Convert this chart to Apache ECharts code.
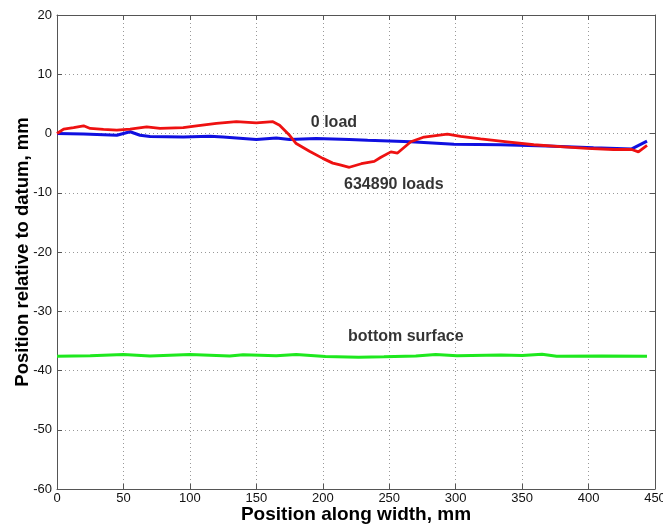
<!DOCTYPE html>
<html>
<head>
<meta charset="utf-8">
<script src="https://cdn.jsdelivr.net/npm/echarts@6/dist/echarts.min.js"></script>
<style>html,body{margin:0;padding:0;background:#fff;}#c{width:663px;height:527px;}</style>
</head>
<body>
<div id="c"></div>
<script>
// Data (mm along width, position relative to datum in mm)
var redX = [0, 5, 12.5, 20, 25, 35, 45, 55, 67.5, 77.5, 95, 105, 120, 135, 150, 162.5, 167.5, 175, 180, 190, 200, 207.5, 213, 220, 229, 238.75, 243.75, 251.25, 256.25, 266.25, 276.25, 293.75, 303.75, 318.75, 338.75, 358.75, 378.75, 398.75, 418.75, 432.5, 437.5, 444];
var redY = [0, 0.75, 1.0, 1.3, 0.85, 0.7, 0.57, 0.75, 1.1, 0.85, 1.0, 1.3, 1.7, 2.0, 1.8, 2.0, 1.4, -0.3, -1.7, -3.0, -4.2, -5.0, -5.3, -5.7, -5.1, -4.7, -4.0, -3.1, -3.3, -1.4, -0.6, -0.1, -0.5, -0.9, -1.4, -1.9, -2.2, -2.5, -2.7, -2.7, -3.1, -2.0];
var blueX = [0, 20, 45, 55, 62.5, 70, 95, 115, 125, 150, 165, 175, 195, 220, 233.75, 266.25, 298.75, 333.75, 368.75, 403.75, 432.5, 444];
var blueY = [0, -0.1, -0.3, 0.3, -0.3, -0.5, -0.6, -0.45, -0.6, -1.0, -0.75, -1.0, -0.85, -1.0, -1.15, -1.4, -1.8, -1.9, -2.1, -2.4, -2.6, -1.3];
var greenX = [0, 25, 50, 70, 100, 130, 140, 165, 180, 202, 227, 246, 270, 285, 301, 334, 350, 365, 376, 410, 444];
var greenY = [-37.58, -37.5, -37.3, -37.55, -37.3, -37.55, -37.36, -37.5, -37.3, -37.64, -37.75, -37.7, -37.55, -37.3, -37.5, -37.4, -37.45, -37.25, -37.58, -37.55, -37.58];
var labelTexts = ['0 load', '634890 loads', 'bottom surface'];
var labelX = [191, 216, 219];
var labelY = [1.9, -8.6, -34.3];
var xTicks = [0, 50, 100, 150, 200, 250, 300, 350, 400, 450];
var yTicks = [-60, -50, -40, -30, -20, -10, 0, 10, 20];

function zip(a, b) { return a.map(function (v, i) { return [v, b[i]]; }); }

var chart = echarts.init(document.getElementById('c'), null, {renderer: 'canvas'});
var fontFam = '"Liberation Sans", Arial, sans-serif';
function axisBase() {
  return {
    axisLine: {show: true, onZero: false, lineStyle: {color: '#555', width: 1}},
    axisTick: {show: true, inside: true, length: 5, lineStyle: {color: '#555'}},
    axisLabel: {color: '#111', fontSize: 13, fontFamily: fontFam},
    splitLine: {show: false}
  };
}
chart.setOption({
  animation: false,
  backgroundColor: '#fff',
  grid: {left: 57, right: 8, top: 15, bottom: 38, containLabel: false, outerBoundsMode: 'none'},
  xAxis: [
    Object.assign(axisBase(), {
      type: 'value', position: 'bottom', min: xTicks[0], max: xTicks[xTicks.length - 1], interval: 50,
      name: 'Position along width, mm', nameLocation: 'middle', nameGap: 16, nameMoveOverlap: false,
      nameTextStyle: {fontSize: 19, fontWeight: 'bold', color: '#000', fontFamily: fontFam},
      axisLabel: {color: '#111', fontSize: 13, fontFamily: fontFam, margin: 3},
      splitLine: {show: true, lineStyle: {type: [1, 3], color: '#999', width: 1}}
    }),
    Object.assign(axisBase(), {
      type: 'value', position: 'top', min: xTicks[0], max: xTicks[xTicks.length - 1], interval: 50,
      axisLabel: {show: false}
    })
  ],
  yAxis: [
    Object.assign(axisBase(), {
      type: 'value', position: 'left', min: yTicks[0], max: yTicks[yTicks.length - 1], interval: 10,
      name: 'Position relative to datum, mm', nameLocation: 'middle', nameGap: 25, nameMoveOverlap: false,
      nameTextStyle: {fontSize: 18.5, fontWeight: 'bold', color: '#000', fontFamily: fontFam},
      axisLabel: {color: '#111', fontSize: 13, fontFamily: fontFam, margin: 5},
      splitLine: {show: true, lineStyle: {type: [1, 3], color: '#999', width: 1}}
    }),
    Object.assign(axisBase(), {
      type: 'value', position: 'right', min: yTicks[0], max: yTicks[yTicks.length - 1], interval: 10,
      axisLabel: {show: false}
    })
  ],
  series: [
    {type: 'line', name: 'bottom surface', data: zip(greenX, greenY), showSymbol: false, symbol: 'none',
     lineStyle: {color: '#1ee81e', width: 3}},
    {type: 'line', name: '0 load', data: zip(blueX, blueY), showSymbol: false, symbol: 'none',
     lineStyle: {color: '#1010e0', width: 3}},
    {type: 'line', name: '634890 loads', data: zip(redX, redY), showSymbol: false, symbol: 'none',
     lineStyle: {color: '#ee1111', width: 2.8}},
    {type: 'scatter', symbolSize: 0, silent: true,
     data: labelTexts.map(function (t, i) { return {value: [labelX[i], labelY[i]], name: t}; }),
     label: {show: true, position: 'right', distance: 0, formatter: '{b}', fontSize: 16, fontWeight: 'bold', color: '#000', fontFamily: fontFam}}
  ]
});
</script>
</body>
</html>
